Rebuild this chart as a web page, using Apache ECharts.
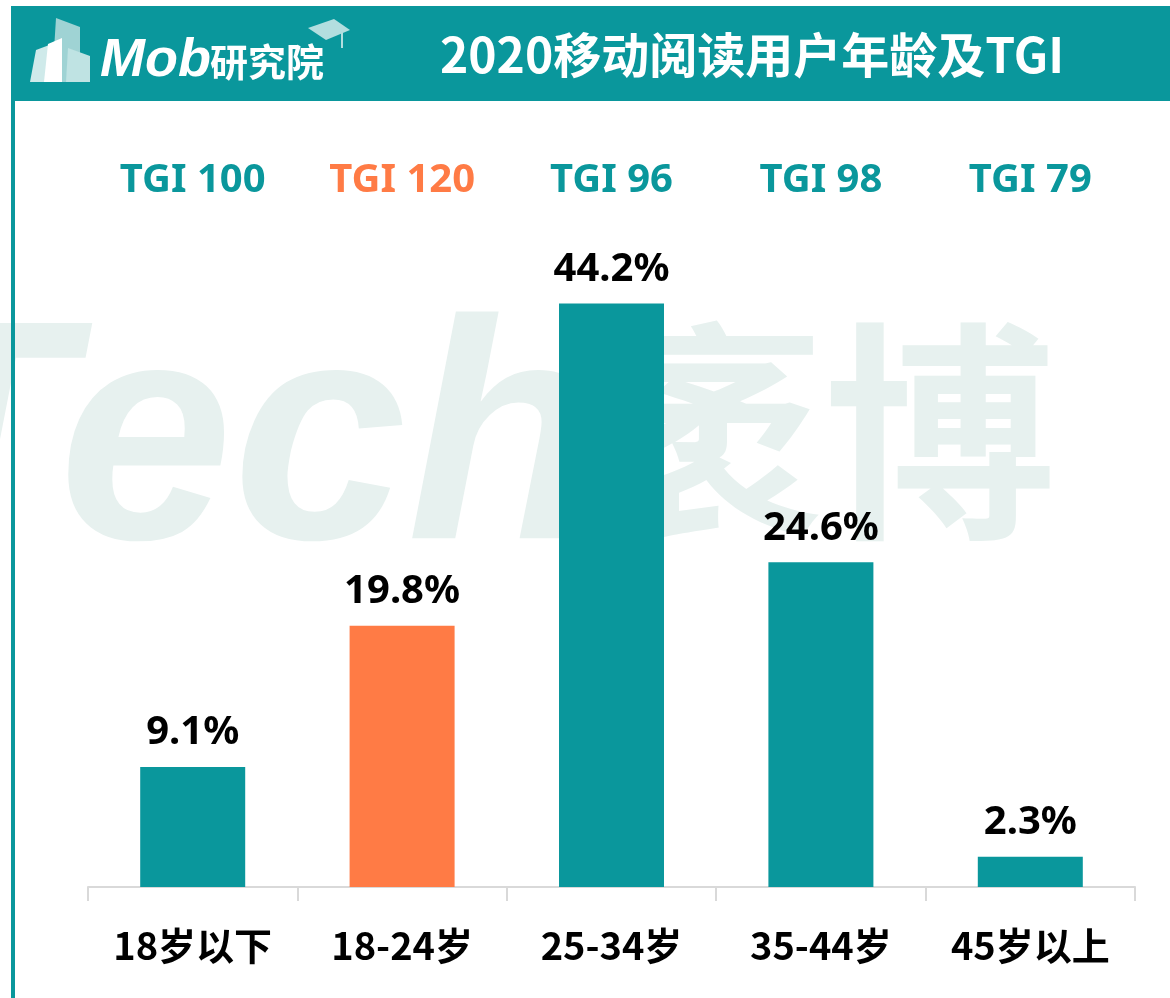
<!DOCTYPE html>
<html>
<head>
<meta charset="utf-8">
<script src="https://cdn.jsdelivr.net/npm/echarts@6/dist/echarts.min.js"></script>
<style>
  html, body { margin: 0; padding: 0; background: #fff; }
  #chart { width: 1170px; height: 998px; }
</style>
</head>
<body>
<div id="chart"></div>
<script>
// 年龄段
var categories = ["18岁以下", "18-24岁", "25-34岁", "35-44岁", "45岁以上"];
// 占比 %
var shareValues = [9.1, 19.8, 44.2, 24.6, 2.3];
// TGI
var tgiValues = [100, 120, 96, 98, 79];
var highlightIndex = 1; // 18-24岁 高亮

var TEAL = "#0a979c";
var ORANGE = "#ff7b45";
var CJK = "'Noto Sans CJK SC', 'Noto Sans', sans-serif";

var myChart = echarts.init(document.getElementById("chart"));

var barData = shareValues.map(function (v, i) {
  return {
    value: v,
    itemStyle: { color: i === highlightIndex ? ORANGE : TEAL }
  };
});

var option = {
  backgroundColor: "#fff",
  animation: false,
  grid: { left: 88, right: 35, top: 227, bottom: 111 },
  xAxis: [
    {
      type: "category",
      data: categories,
      axisLine: { lineStyle: { color: "#d9d9d9", width: 2 } },
      axisTick: { show: true, interval: 0, length: 14, lineStyle: { color: "#d9d9d9", width: 2 } },
      axisLabel: {
        interval: 0,
        margin: 40,
        color: "#000",
        fontSize: 38,
        fontWeight: "bold",
        fontFamily: CJK
      }
    },
    {
      type: "category",
      position: "top",
      data: categories,
      axisLine: { show: false },
      axisTick: { show: false },
      axisLabel: {
        interval: 0,
        margin: 26,
        fontSize: 40,
        fontWeight: "bold",
        fontFamily: "'Noto Sans', sans-serif",
        formatter: function (val, idx) {
          var key = idx === highlightIndex ? "o" : "t";
          return "{" + key + "|TGI " + tgiValues[idx] + "}";
        },
        rich: {
          t: { color: TEAL, fontSize: 40, fontWeight: "bold", fontFamily: "'Noto Sans', sans-serif" },
          o: { color: ORANGE, fontSize: 40, fontWeight: "bold", fontFamily: "'Noto Sans', sans-serif" }
        }
      }
    }
  ],
  yAxis: {
    type: "value",
    min: 0,
    max: 50,
    show: false
  },
  graphic: {
    elements: [
      // 水印
      {
        type: "text",
        z: -10,
        silent: true,
        style: {
          text: "Tech",
          x: 598,
          y: 452,
          align: "right",
          verticalAlign: "middle",
          fill: "#e7f1ef",
          font: "italic bold 313px 'Liberation Sans', Arial, sans-serif"
        }
      },
      {
        type: "text",
        z: -10,
        silent: true,
        style: {
          text: "袤博",
          x: 592,
          y: 432,
          align: "left",
          verticalAlign: "middle",
          fill: "#e7f1ef",
          font: "bold 232px 'Noto Sans CJK SC', sans-serif"
        }
      },
      // 顶部栏
      {
        type: "rect",
        z: 0,
        shape: { x: 11, y: 6, width: 1159, height: 95 },
        style: { fill: TEAL }
      },
      // 左侧边线
      {
        type: "rect",
        z: 0,
        shape: { x: 11, y: 6, width: 4, height: 992 },
        style: { fill: TEAL }
      },
      // logo 建筑
      {
        type: "polygon",
        shape: { points: [[30, 82], [36, 50], [52, 44], [52, 82]] },
        style: { fill: "#cfeaea" }
      },
      {
        type: "polygon",
        shape: { points: [[52, 82], [56, 18], [80, 27], [80, 82]] },
        style: { fill: "#9fd3d4" }
      },
      {
        type: "polygon",
        shape: { points: [[66, 82], [68, 48], [90, 56], [90, 82]] },
        style: { fill: "#bfe3e3" }
      },
      {
        type: "polygon",
        shape: { points: [[44, 82], [48, 44], [62, 38], [62, 82]] },
        style: { fill: "#ffffff" }
      },
      {
        type: "text",
        style: {
          text: "Mob",
          x: 100,
          y: 61,
          verticalAlign: "middle",
          fill: "#fff",
          font: "italic bold 54px 'Liberation Sans', Arial, sans-serif"
        }
      },
      {
        type: "text",
        style: {
          text: "研究院",
          x: 210,
          y: 62,
          verticalAlign: "middle",
          fill: "#fff",
          font: "bold 38px 'Noto Sans CJK SC', sans-serif"
        }
      },
      // 学士帽
      {
        type: "polygon",
        shape: { points: [[308, 28], [334, 19], [350, 30], [326, 40]] },
        style: { fill: "#b3dedf" }
      },
      {
        type: "line",
        shape: { x1: 342, y1: 33, x2: 342, y2: 48 },
        style: { stroke: "#b3dedf", lineWidth: 2 }
      },
      // 标题
      {
        type: "text",
        style: {
          text: "2020移动阅读用户年龄及TGI",
          x: 752,
          y: 55,
          align: "center",
          verticalAlign: "middle",
          fill: "#fff",
          font: "bold 48px 'Noto Sans CJK SC', sans-serif"
        }
      }
    ]
  },
  series: [
    {
      type: "bar",
      xAxisIndex: 0,
      barWidth: 105,
      data: barData,
      label: {
        show: true,
        position: "top",
        distance: 14,
        color: "#000",
        fontSize: 40,
        fontWeight: "bold",
        fontFamily: "'Noto Sans', sans-serif",
        formatter: function (p) {
          return p.value.toFixed(1) + "%";
        }
      }
    }
  ]
};

myChart.setOption(option);
window.onresize = function () {
  myChart ? myChart.resize() : "";
};
</script>
</body>
</html>
